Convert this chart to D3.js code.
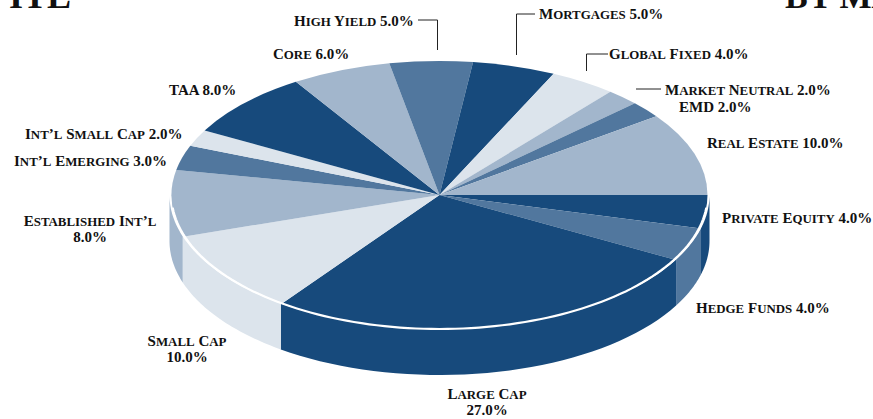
<!DOCTYPE html>
<html>
<head>
<meta charset="utf-8">
<title>Allocation</title>
<script src="https://d3js.org/d3.v7.min.js"></script>
<style>
    html, body { margin: 0; padding: 0; background: #fff; overflow: hidden; }
    text { font-family: "Liberation Serif", serif; font-weight: bold; fill: #111; }
    .label { font-size: 15px; }
    .low { font-size: 12.9px; text-transform: uppercase; }
</style>
</head>
<body>
<div id="container"></div>
<script>

// Data, clockwise from 3 o'clock
const categories = ["Private Equity", "Hedge Funds", "Large Cap", "Small Cap", "Established Int’l",
    "Int’l Emerging", "Int’l Small Cap", "TAA", "Core", "High Yield",
    "Mortgages", "Global Fixed", "Market Neutral", "EMD", "Real Estate"];
const values = [4, 4, 27, 10, 8, 3, 2, 8, 6, 5, 5, 4, 2, 2, 10];

const dark = "#174a7c", mid = "#51779e", light = "#a2b6cc", pale = "#dce4ec";
const sliceColors = [dark, mid, dark, pale, light, mid, pale, dark, light, mid, dark, pale, light, mid, light];

const width = 873;
const height = 419;
const cx = 439.5;
const cy = 195;
const rx = 268;
const ry = 134;
const wallRx = 270; // wall sticks out a bit past the top face
const depth = 46;

const svg = d3.create("svg")
    .attr("width", width)
    .attr("height", height)
    .style("display", "block");

const slices = d3.pie().sort(null).value(d => d)
    .startAngle(Math.PI / 2)
    .endAngle(Math.PI * 2.5)(values);

// point on the rim for a d3.arc style angle (0 = 12 o'clock)
const px = (a, r = rx) => cx + r * Math.sin(a);
const py = a => cy - ry * Math.cos(a);

// Side wall, only the front half of the disc is seen
const wall = svg.append("g");
slices.forEach((s, i) => {
    const a0 = Math.max(s.startAngle, Math.PI / 2);
    const a1 = Math.min(s.endAngle, Math.PI * 1.5);
    if (a1 <= a0) return;
    const p = d3.path();
    p.moveTo(px(a0, wallRx), py(a0));
    const steps = d3.range(0, 41).map(k => a0 + (a1 - a0) * k / 40);
    steps.forEach(a => p.lineTo(px(a, wallRx), py(a) + depth));
    steps.reverse().forEach(a => p.lineTo(px(a, wallRx), py(a)));
    p.closePath();
    wall.append("path").attr("d", p.toString()).attr("fill", sliceColors[i]);
});

// Top face, d3.arc squashed to an ellipse
const arc = d3.arc().innerRadius(0).outerRadius(rx);
svg.append("g")
    .attr("transform", `translate(${cx},${cy}) scale(1,${ry / rx})`)
    .selectAll("path")
    .data(slices)
    .join("path")
    .attr("d", arc)
    .attr("fill", (d, i) => sliceColors[i]);

// White rim, front edge of the top face only
const rim = d3.path();
d3.range(0, 101).map(k => Math.PI * (0.53 + 0.94 * k / 100)).forEach((a, k) => {
    if (k === 0) rim.moveTo(px(a), py(a));
    else rim.lineTo(px(a), py(a));
});
svg.append("path")
    .attr("d", rim.toString())
    .attr("fill", "none")
    .attr("stroke", "#fff")
    .attr("stroke-width", 2.2);

// Labels: lines, x, baseline, anchor
const labelLines = [
    [["Private Equity 4.0%"], 722, 223, "start"],
    [["Hedge Funds 4.0%"], 696, 313, "start"],
    [["Large Cap", "27.0%"], 487, 399, "middle"],
    [["Small Cap", "10.0%"], 187, 346, "middle"],
    [["Established Int’l", "8.0%"], 90, 226, "middle"],
    [["Int’l Emerging 3.0%"], 14, 166, "start"],
    [["Int’l Small Cap 2.0%"], 25, 139, "start"],
    [["TAA 8.0%"], 169, 95, "start"],
    [["Core 6.0%"], 273, 59, "start"],
    [["High Yield 5.0%"], 294, 26, "start"],
    [["Mortgages 5.0%"], 539, 19, "start"],
    [["Global Fixed 4.0%"], 609, 59, "start"],
    [["Market Neutral 2.0%"], 665, 95, "start"],
    [["EMD 2.0%"], 679, 112, "start"],
    [["Real Estate 10.0%"], 707, 148, "start"]
];

// Small caps by hand, the synthetic ones of the browser come out too small
labelLines.forEach(l => {
    const t = svg.append("text")
        .attr("class", "label")
        .attr("text-anchor", l[3]);
    l[0].forEach((line, i) => {
        const row = t.append("tspan")
            .attr("x", l[1])
            .attr("y", l[2] + i * 15.5);
        line.match(/[a-z]+|[^a-z]+/g).forEach(run => {
            row.append("tspan")
                .attr("class", /[a-z]/.test(run) ? "low" : null)
                .text(run);
        });
    });
});

// Leader lines
const leaders = [
    [[418, 20], [437.5, 20], [437.5, 50]],
    [[535, 14], [516.5, 14], [516.5, 55]],
    [[608, 54], [586.5, 54], [586.5, 71]],
    [[636, 89], [661, 89]]
];
svg.selectAll("polyline")
    .data(leaders)
    .join("polyline")
    .attr("points", d => d.join(" "))
    .attr("fill", "none")
    .attr("stroke", "#222")
    .attr("stroke-width", 1);

// Heading, cut off by the top of the picture
svg.append("text").attr("x", 9).attr("y", 8).attr("font-size", 36).text("ITL");
svg.append("text").attr("x", 785).attr("y", 8).attr("font-size", 34).text("BY MA");

container.append(svg.node());

</script>
</body>
</html>
